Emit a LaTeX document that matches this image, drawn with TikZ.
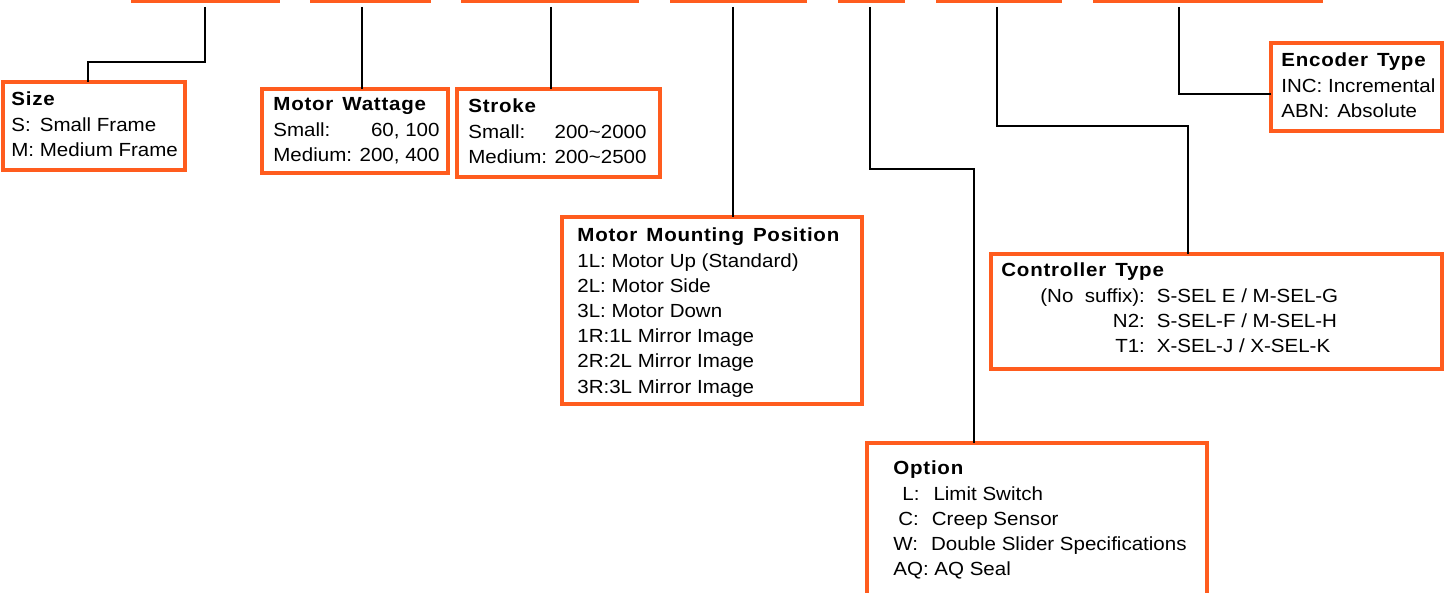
\documentclass[tikz,border=0pt]{standalone}
\usepackage{fontspec}
\setmainfont{Liberation Sans}[FakeStretch=1.08]
\usetikzlibrary{positioning,calc}
\definecolor{boxorange}{RGB}{255,92,30}
\newcommand{\fs}{\fontsize{9.5pt}{12.6pt}\selectfont}
\newcommand{\hd}[1]{{\bfseries\addfontfeature{LetterSpace=4}\spaceskip=4.5pt #1}}
\tikzset{
  obox/.style={rectangle,draw=boxorange,line width=1.6pt,anchor=north west,inner sep=0pt,outer sep=0pt},
  tbox/.style={rectangle,draw=boxorange,line width=1.6pt,anchor=south west,inner sep=0pt,outer sep=0pt,minimum height=20pt},
  txt/.style={anchor=base west,inner sep=0pt,font=\fs},
  link/.style={line width=0.9pt}
}

\begin{document}
\begin{tikzpicture}[x=0.5pt,y=-0.5pt]
\useasboundingbox (0,0) rectangle (1448,593);
\begin{scope}
\clip (0,0) rectangle (1448,593);
% code boxes along the top edge
\node[tbox, minimum width=72.5pt] (tA) at (133,1) {};
\node[tbox, minimum width=58.5pt] (tB) at (312,1) {};
\node[tbox, minimum width=87pt] (tC) at (463,1) {};
\node[tbox, minimum width=66.5pt] (tD) at (672,1) {};
\node[tbox, minimum width=31.5pt] (tE) at (840,1) {};
\node[tbox, minimum width=61pt] (tF) at (938,1) {};
\node[tbox, minimum width=113pt] (tG) at (1095,1) {};

% description boxes
\node[obox, minimum width=91pt, minimum height=44pt] (sizeB) at (3,82) {};
\node[obox, minimum width=93pt, minimum height=42pt] (watB) at (262,89) {};
\node[obox, minimum width=101.5pt, minimum height=44pt] (strB) at (457,89) {};
\node[obox, minimum width=150pt, minimum height=93.5pt] (mntB) at (562,217) {};
\node[obox, minimum width=170pt, minimum height=90pt] (optB) at (867,443) {};
\node[obox, minimum width=225.5pt, minimum height=57.5pt] (ctlB) at (991,254) {};
\node[obox, minimum width=85.5pt, minimum height=44pt] (encB) at (1271,43) {};

\node[txt] (sizeT) at (11,106) {\begin{tabular}[t]{@{}l@{ }l@{}}
  \multicolumn{2}{@{}l@{}}{\hd{Size}}\\
  S: & Small Frame\\
  M: & Medium Frame\end{tabular}};
\node[txt] (watT) at (273,111) {\begin{tabular}[t]{@{}l@{ }r@{}}
  \multicolumn{2}{@{}l@{}}{\hd{Motor Wattage}}\\
  Small: & 60, 100\\
  Medium: & 200, 400\end{tabular}};
\node[txt] (strT) at (468,113) {\begin{tabular}[t]{@{}l@{ }l@{}}
  \multicolumn{2}{@{}l@{}}{\hd{Stroke}}\\
  Small: & 200\textasciitilde 2000\\
  Medium: & 200\textasciitilde 2500\end{tabular}};
\node[txt] (mntT) at (577,242) {\begin{tabular}[t]{@{}l@{}}
  \hd{Motor Mounting Position}\\
  1L: Motor Up (Standard)\\
  2L: Motor Side\\
  3L: Motor Down\\
  1R:1L Mirror Image\\
  2R:2L Mirror Image\\
  3R:3L Mirror Image\end{tabular}};
\node[txt] (ctlT) at (1001,277) {\begin{tabular}[t]{@{\hspace{19.5pt}}r@{\hspace{6pt}}l@{}}
  \multicolumn{2}{@{}l@{}}{\hd{Controller Type}}\\
  (No\ \ suffix): & S-SEL E / M-SEL-G\\
  N2: & S-SEL-F / M-SEL-H\\
  T1: & X-SEL-J / X-SEL-K\end{tabular}};
\node[txt] (encT) at (1281,67) {\begin{tabular}[t]{@{}l@{}}
  \hd{Encoder Type}\\
  INC: Incremental\\
  ABN:\hspace{4pt}Absolute\end{tabular}};
\node[txt] (optT) at (893,475) {\begin{tabular}[t]{@{}l@{}}
  \hd{Option}\\
  \hspace{4.5pt}L:\hspace{7pt}Limit Switch\\
  \hspace{2.5pt}C:\hspace{6.5pt}Creep Sensor\\
  W:\hspace{6.5pt}Double Slider Specifications\\
  AQ: AQ Seal\end{tabular}};

% leader lines
\coordinate (pA) at ([shift={(-0.5,6)}]tA.south);
\coordinate (pB) at ([shift={(-8.5,6)}]tB.south);
\coordinate (pC) at ([shift={(1,6)}]tC.south);
\coordinate (pD) at ([shift={(-5.5,6)}]tD.south);
\coordinate (pE) at ([shift={(-1.5,6)}]tE.south);
\coordinate (pF) at ([shift={(-2,6)}]tF.south);
\coordinate (pG) at ([shift={(-29,6)}]tG.south);
\coordinate (szJ) at (88,62);
\coordinate (opJ) at (974,169);
\coordinate (ctJ) at (1188,126);
\coordinate (enJ) at (1179,94);
\draw[link] (pA) |- (szJ) -- (szJ |- sizeB.north);
\draw[link] (pB) -- (pB |- watB.north);
\draw[link] (pC) -- (pC |- strB.north);
\draw[link] (pD) -- (pD |- mntB.north);
\draw[link] (pE) |- (opJ) -- (opJ |- optB.north);
\draw[link] (pF) |- (ctJ) -- (ctJ |- ctlB.north);
\draw[link] (pG) |- (enJ -| encB.west);
\end{scope}
\end{tikzpicture}
\end{document}
